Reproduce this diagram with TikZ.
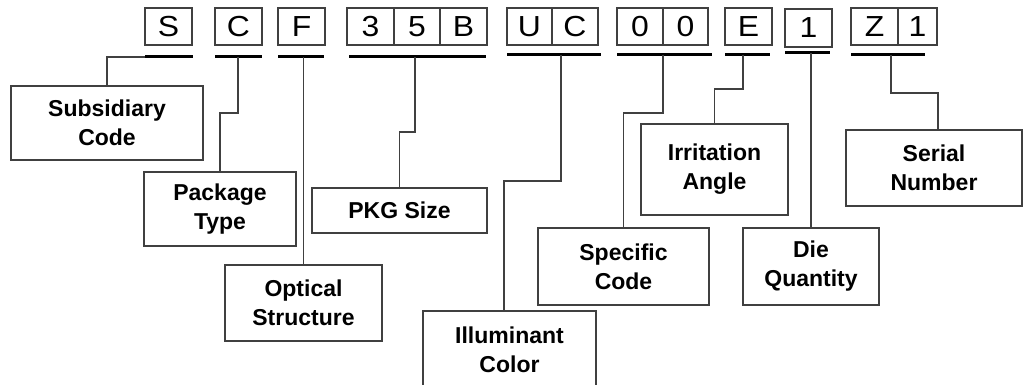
\documentclass[tikz,border=0pt]{standalone}
\usepackage{fontspec}
\setmainfont{Liberation Sans}
\newfontfamily\codefont[FakeStretch=1.1]{Liberation Sans}
\definecolor{linegray}{HTML}{404040}
\tikzset{
  cell/.style={draw=linegray, line width=1.3pt, minimum height=37pt, inner sep=0pt, outer sep=0pt,
               font=\codefont\fontsize{29}{29}\selectfont},
  lbl/.style={draw=linegray, line width=1.5pt, inner sep=0pt, outer sep=0pt, align=center,
              font=\bfseries\fontsize{23}{29}\selectfont},
  uline/.style={draw=black, line width=3pt},
  conn/.style={draw=linegray, line width=1.5pt}
}
\begin{document}
\begin{tikzpicture}[x=1pt,y=-1pt]
\useasboundingbox (0,0) rectangle (1034,385);
% code cells
\node[cell, minimum width=47pt] (cS) at (168.5,26.5) {S};
\node[cell, minimum width=47pt] (cC) at (238.5,26.5) {C};
\node[cell, minimum width=47pt] (cF) at (301.5,26.5) {F};
\node[cell, minimum width=47pt] (c3) at (370.5,26.5) {3};
\node[cell, minimum width=46pt] (c5) at (417,26.5) {5};
\node[cell, minimum width=47pt] (cB) at (463.5,26.5) {B};
\node[cell, minimum width=45pt] (cU) at (529.5,26.5) {U};
\node[cell, minimum width=46pt] (cC2) at (575,26.5) {C};
\node[cell, minimum width=46pt] (c01) at (640,26.5) {0};
\node[cell, minimum width=45pt] (c02) at (685.5,26.5) {0};
\node[cell, minimum width=47pt] (cE) at (748.5,26.5) {E};
\node[cell, minimum width=47pt, minimum height=38pt] (c1) at (808.5,28) {1};
\node[cell, minimum width=47pt] (cZ) at (874.5,26.5) {Z};
\node[cell, minimum width=39pt] (c12) at (917.5,26.5) {1};
% underlines
\coordinate (uS1) at (145,57); \coordinate (uS2) at (193,57);
\coordinate (uC1) at (215,57); \coordinate (uC2) at (262,57); \coordinate (uCm) at (238,57);
\coordinate (uF1) at (278,57); \coordinate (uF2) at (324,57); \coordinate (uFm) at (303.5,57);
\coordinate (uB1) at (349,57); \coordinate (uB2) at (486,57); \coordinate (uBm) at (415,57);
\coordinate (uU1) at (507,55); \coordinate (uU2) at (601,55); \coordinate (uUm) at (561,55);
\coordinate (u01) at (617,55); \coordinate (u02) at (712,55); \coordinate (u0m) at (663,55);
\coordinate (uE1) at (725,55); \coordinate (uE2) at (770,55); \coordinate (uEm) at (743,55);
\coordinate (u11) at (785,53); \coordinate (u12) at (830,53); \coordinate (u1m) at (811,53);
\coordinate (uZ1) at (851,55); \coordinate (uZ2) at (925,55); \coordinate (uZm) at (891,55);
\foreach \a/\b in {uS1/uS2,uC1/uC2,uF1/uF2,uB1/uB2,uU1/uU2,u01/u02,uE1/uE2,u11/u12,uZ1/uZ2}
  \draw[uline] (\a) -- (\b);
% label boxes
\node[lbl, minimum width=192pt, minimum height=74pt] (sub) at (107,123) {Subsidiary\\Code};
\node[lbl, minimum width=152pt, minimum height=74pt] (pkg) at (220,209) {Package\\Type};
\node[lbl, minimum width=157pt, minimum height=76pt] (opt) at (303.5,303) {Optical\\Structure};
\node[lbl, minimum width=175pt, minimum height=45pt] (size) at (399.5,210.5) {PKG Size};
\node[lbl, minimum width=173pt, minimum height=78pt] (ill) at (509.5,350) {Illuminant\\Color};
\node[lbl, minimum width=171pt, minimum height=77pt] (spec) at (623.5,266.5) {Specific\\Code};
\node[lbl, minimum width=147pt, minimum height=91pt] (irr) at (714.5,169.5) {Irritation\\Angle};
\node[lbl, minimum width=136pt, minimum height=77pt] (die) at (811,266.5) {Die\\Quantity};
\node[lbl, minimum width=176pt, minimum height=76pt] (ser) at (934,168) {Serial\\Number};
% connectors
\draw[conn] (uS1) -| (sub.north);
\draw[conn] (uCm) -- ++(0,56) -| (pkg.north);
\draw[conn] (uFm) -- (opt.north);
\draw[conn] (uBm) -- ++(0,75) -| (size.north);
\draw[conn] (uUm) -- ++(0,126) -| ([xshift=-5.5pt]ill.north);
\draw[conn] (u0m) -- ++(0,58) -| (spec.north);
\draw[conn] (uEm) -- ++(0,34) -| (irr.north);
\draw[conn] (u1m) -- (die.north);
\draw[conn] (uZm) -- ++(0,38) -| ([xshift=4pt]ser.north);
\end{tikzpicture}
\end{document}
